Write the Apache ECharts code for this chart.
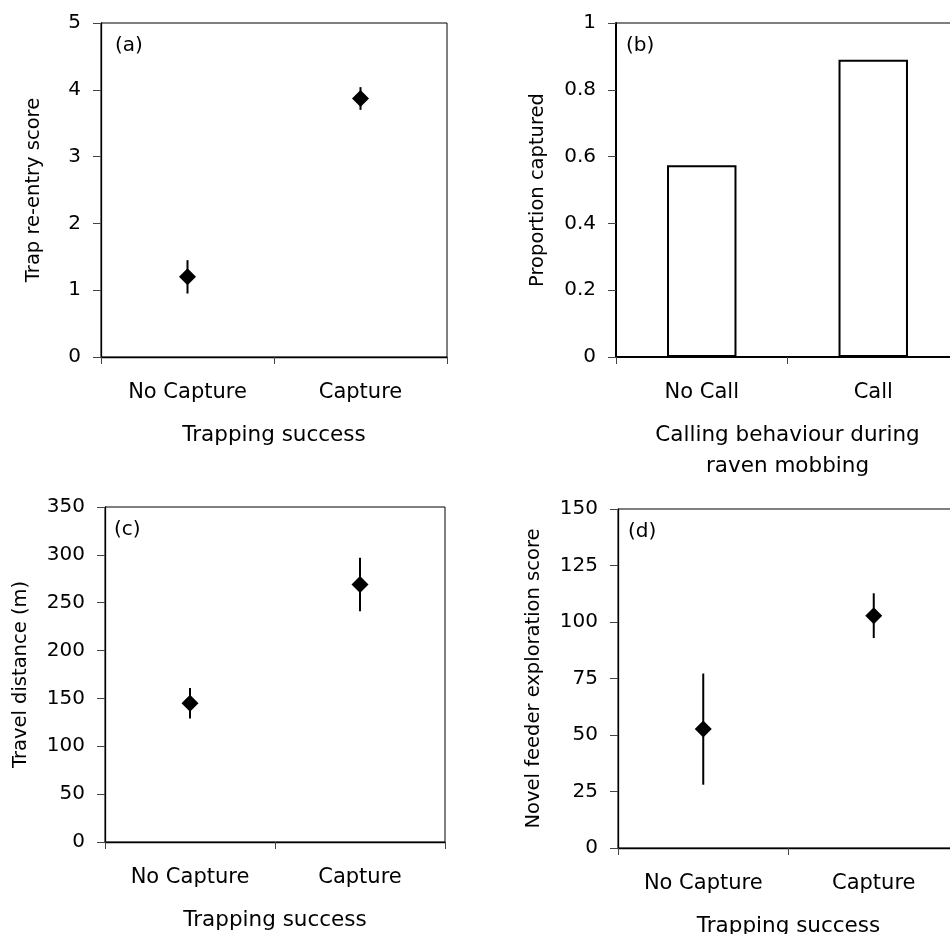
<!DOCTYPE html>
<html>
<head>
<meta charset="utf-8">
<script src="https://cdn.jsdelivr.net/npm/echarts@6/dist/echarts.min.js"></script>
<style>
  html, body { margin: 0; padding: 0; background: #fff; }
  #chart { width: 950px; height: 934px; }
</style>
</head>
<body>
<div id="chart"></div>
<script>
// ---- data ----
const trapCategories = ['No Capture', 'Capture'];
const callCategories = ['No Call', 'Call'];

// (a) trap re-entry score, mean ± SE
const reentryMean = [1.2, 3.87];
const reentrySE = [0.25, 0.17];

// (b) proportion captured by calling behaviour
const proportionCaptured = [0.574, 0.890];

// (c) travel distance (m), mean ± SE
const travelMean = [145, 269];
const travelSE = [16, 28];

// (d) novel feeder exploration score, mean ± SE
const explorationMean = [52.6, 102.8];
const explorationSE = [24.6, 9.9];

// y-axis tick settings per panel
const reentryTicks = { min: 0, max: 5, interval: 1 };
const proportionTicks = { min: 0, max: 1, interval: 0.2 };
const travelTicks = { min: 0, max: 350, interval: 50 };
const explorationTicks = { min: 0, max: 150, interval: 25 };

// ---- styling ----
const FONT = 'DejaVu Sans';
const INK = '#000';
const TICK = '#444';

const panels = [
  { tag: '(a)', tagDx: 14, grid: { left: 101, top: 23, width: 346, height: 334 }, lw: 1.3,
    cats: trapCategories, xName: 'Trapping success', yName: 'Trap re-entry score',
    yNameGap: 57, ticks: reentryTicks, fmt: v => String(v) },
  { tag: '(b)', tagDx: 10, grid: { left: 616, top: 23, width: 343, height: 334 }, lw: 2,
    cats: callCategories, xName: 'Calling behaviour during\nraven mobbing', yName: 'Proportion captured',
    yNameGap: 68, ticks: proportionTicks, fmt: v => (v === 0 || v === 1) ? String(v) : v.toFixed(1) },
  { tag: '(c)', tagDx: 9, grid: { left: 105, top: 507, width: 340, height: 335 }, lw: 1.3,
    cats: trapCategories, xName: 'Trapping success', yName: 'Travel distance (m)',
    yNameGap: 74, ticks: travelTicks, fmt: v => String(v) },
  { tag: '(d)', tagDx: 10, grid: { left: 618, top: 509, width: 341, height: 339 }, lw: 1.3,
    cats: trapCategories, xName: 'Trapping success', yName: 'Novel feeder exploration score',
    yNameGap: 74, ticks: explorationTicks, fmt: v => String(v) }
];

const grids = [], xAxes = [], yAxes = [], titles = [], series = [];

panels.forEach((p, i) => {
  grids.push(Object.assign({
    show: true, borderColor: INK, borderWidth: 1, backgroundColor: 'transparent',
    outerBoundsMode: 'none', containLabel: false
  }, p.grid));

  titles.push({
    text: p.tag, left: p.grid.left + p.tagDx, top: p.grid.top + 13, padding: 0,
    textStyle: { fontFamily: FONT, fontSize: 20, fontWeight: 'normal', color: INK }
  });

  xAxes.push({
    type: 'category', gridIndex: i, data: p.cats,
    boundaryGap: true,
    axisLine: { show: true, lineStyle: { color: INK, width: p.lw } },
    axisTick: { show: true, length: 7, alignWithLabel: false, interval: 0, lineStyle: { color: TICK, width: 1 } },
    axisLabel: { interval: 0, margin: 25, color: INK, fontFamily: FONT, fontSize: 21 },
    splitLine: { show: false },
    name: p.xName, nameLocation: 'middle', nameGap: 63,
    nameTextStyle: { color: INK, fontFamily: FONT, fontSize: 21.5, lineHeight: 31 }
  });

  yAxes.push({
    type: 'value', gridIndex: i,
    min: p.ticks.min, max: p.ticks.max, interval: p.ticks.interval,
    axisLine: { show: true, lineStyle: { color: INK, width: p.lw } },
    axisTick: { show: true, length: 8, inside: false, lineStyle: { color: TICK, width: 1 } },
    axisLabel: { margin: 20, color: INK, fontFamily: FONT, fontSize: 20, formatter: p.fmt },
    splitLine: { show: false },
    name: p.yName, nameLocation: 'middle', nameGap: p.yNameGap, nameRotate: 90,
    nameTextStyle: { color: INK, fontFamily: FONT, fontSize: 19.5 }
  });
});

// vertical error bar drawn from [category, low, high]
function errorBarItem(params, api) {
  const lo = api.coord([api.value(0), api.value(1)]);
  const hi = api.coord([api.value(0), api.value(2)]);
  return {
    type: 'line',
    shape: { x1: lo[0], y1: lo[1], x2: hi[0], y2: hi[1] },
    style: { stroke: INK, lineWidth: 2 }
  };
}

function meanWithError(idx, cats, means, ses) {
  series.push({
    type: 'custom', xAxisIndex: idx, yAxisIndex: idx,
    renderItem: errorBarItem, silent: true, z: 2,
    data: cats.map((c, k) => [k, means[k] - ses[k], means[k] + ses[k]])
  });
  series.push({
    type: 'scatter', xAxisIndex: idx, yAxisIndex: idx,
    symbol: 'diamond', symbolSize: 17, z: 3, silent: true,
    itemStyle: { color: INK, opacity: 1 },
    data: cats.map((c, k) => [k, means[k]])
  });
}

meanWithError(0, trapCategories, reentryMean, reentrySE);

series.push({
  type: 'bar', xAxisIndex: 1, yAxisIndex: 1, barWidth: '40.5%', silent: true,
  itemStyle: { color: '#fff', borderColor: INK, borderWidth: 2 },
  data: proportionCaptured
});

meanWithError(2, trapCategories, travelMean, travelSE);
meanWithError(3, trapCategories, explorationMean, explorationSE);

const chart = echarts.init(document.getElementById('chart'), null, { renderer: 'canvas' });
chart.setOption({
  animation: false,
  backgroundColor: '#fff',
  textStyle: { fontFamily: FONT, color: INK },
  title: titles,
  grid: grids,
  xAxis: xAxes,
  yAxis: yAxes,
  series: series
});
</script>
</body>
</html>
